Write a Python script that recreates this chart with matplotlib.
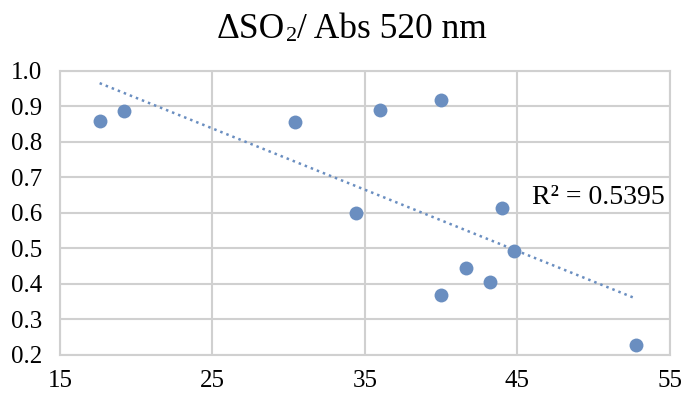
import numpy as np
import matplotlib
matplotlib.use("Agg")
from matplotlib import pyplot as plt

plt.rcParams['font.family'] = ['Liberation Serif', 'DejaVu Serif']

# donnees
x = [17.6, 19.2, 30.4, 34.4, 36.0, 40.0, 40.0, 41.6, 43.2, 44.0, 44.8, 52.8]
y = [0.859, 0.887, 0.856, 0.600, 0.890, 0.918, 0.369, 0.445, 0.406, 0.615, 0.492, 0.229]
xticks = [15, 25, 35, 45, 55]
yticks = [0.2, 0.3, 0.4, 0.5, 0.6, 0.7, 0.8, 0.9, 1.0]
r2_label = "R² = 0.5395"

bleu = '#6a8ec0'
gris = '#d0d0d0'

fig = plt.figure(figsize=(6.84, 3.94), dpi=100)
ax = fig.add_axes([0.0877, 0.099, 0.8918, 0.7216])

ax.scatter(x, y, s=100, color=bleu, zorder=3, linewidths=0)

# droite de tendance
a, b = np.polyfit(x, y, 1)
xt = np.array([min(x), max(x)])
ax.plot(xt, a * xt + b, color=bleu, linestyle=(0, (1, 1.6)), linewidth=1.8, zorder=2)

ax.set_xlim(15, 55)
ax.set_ylim(0.2, 1.0)
ax.set_xticks(xticks)
ax.set_yticks(yticks)
ax.set_yticklabels([f"{v:.1f}" for v in yticks])
ax.tick_params(length=0, labelsize=18)
ax.tick_params(axis='y', pad=13)
ax.tick_params(axis='x', pad=11)
ax.grid(True, color=gris, linewidth=1.5)
ax.set_axisbelow(True)
for s in ax.spines.values():
    s.set_color(gris)
    s.set_linewidth(1.5)

ax.text(0.991, 0.555, r2_label, transform=ax.transAxes, ha='right', va='center', fontsize=20)

# titre avec le 2 en petit sur la ligne de base
fig.text(0.4167, 0.925, "ΔSO", fontsize=25.5, ha='right', va='center')
fig.text(0.4175, 0.907, "2", fontsize=16, ha='left', va='center')
fig.text(0.434, 0.925, "/ Abs 520 nm", fontsize=25.5, ha='left', va='center')

fig.savefig('out.png', dpi=100)
